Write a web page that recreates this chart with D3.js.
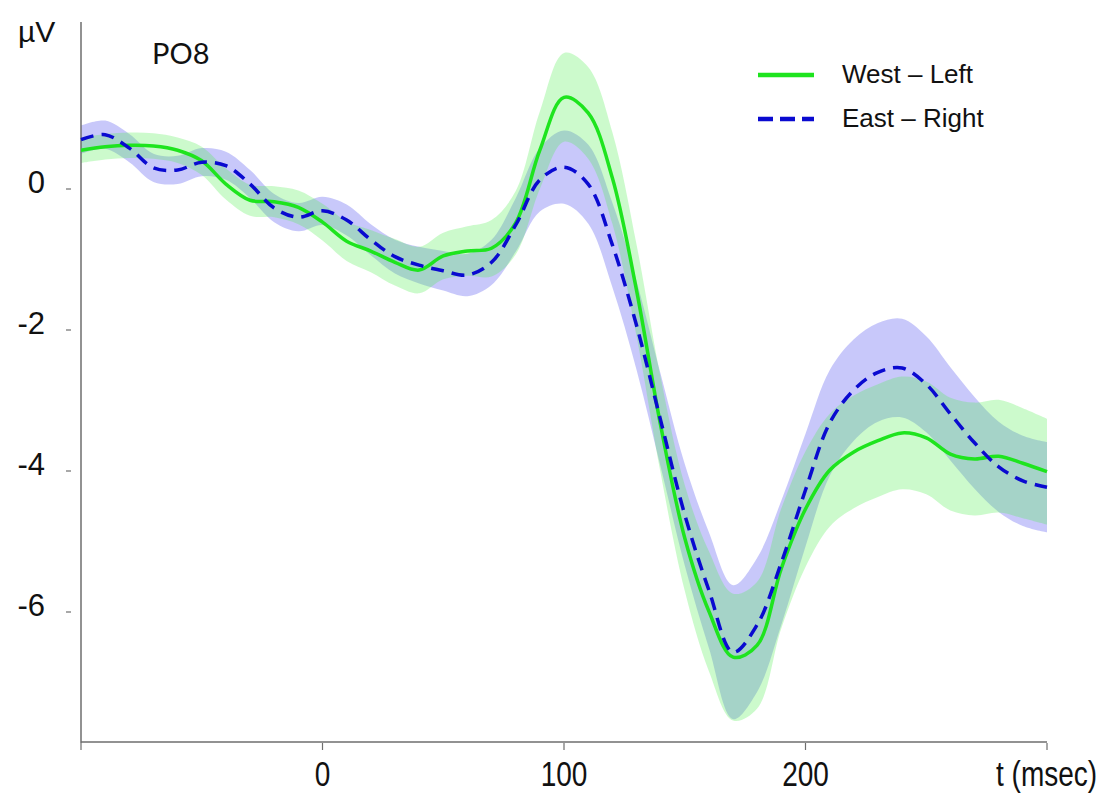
<!DOCTYPE html>
<html>
<head>
<meta charset="utf-8">
<script src="https://cdn.jsdelivr.net/npm/d3@7"></script>
<style>
  body { margin: 0; background: #fff; }
  text { font-family: "Liberation Sans", Arial, sans-serif; fill: #111; }
</style>
</head>
<body>
<svg id="chart" width="1102" height="794"></svg>
<script>
// time axis, ms (10 ms steps)
var times = d3.range(-100, 301, 10);

// West - Left (green): mean and half width of the shaded band, in µV
var westMean = [0.55, 0.60, 0.62, 0.61, 0.55, 0.40, 0.07, -0.16, -0.18, -0.26,
    -0.47, -0.74, -0.88, -1.04, -1.15, -0.95, -0.88, -0.84, -0.48, 0.55,
    1.30, 1.08, 0.16, -1.43, -3.35, -4.95, -5.99, -6.64, -6.47, -5.38,
    -4.54, -3.99, -3.73, -3.57, -3.46, -3.53, -3.76, -3.83, -3.79, -3.89, -4.01];
var westBand = [0.18, 0.18, 0.18, 0.18, 0.18, 0.20, 0.22, 0.22, 0.22, 0.24,
    0.26, 0.28, 0.30, 0.33, 0.33, 0.33, 0.35, 0.40, 0.45, 0.55,
    0.63, 0.65, 0.65, 0.65, 0.68, 0.75, 0.85, 0.90, 0.90, 0.85,
    0.82, 0.80, 0.80, 0.80, 0.80, 0.80, 0.80, 0.80, 0.80, 0.78, 0.75];

// East - Right (blue dashed)
var eastMean = [0.70, 0.77, 0.58, 0.30, 0.27, 0.38, 0.33, 0.07, -0.27, -0.40,
    -0.31, -0.44, -0.72, -0.96, -1.08, -1.16, -1.22, -1.04, -0.51, 0.13,
    0.31, 0.07, -0.79, -1.93, -3.28, -4.62, -5.69, -6.57, -6.18, -5.30,
    -4.27, -3.32, -2.85, -2.60, -2.54, -2.77, -3.19, -3.60, -3.94, -4.14, -4.23];
var eastBand = [0.20, 0.20, 0.20, 0.20, 0.20, 0.20, 0.20, 0.20, 0.20, 0.20,
    0.20, 0.22, 0.22, 0.24, 0.26, 0.28, 0.30, 0.32, 0.38, 0.45,
    0.52, 0.56, 0.60, 0.63, 0.66, 0.72, 0.82, 0.95, 0.95, 0.88,
    0.80, 0.75, 0.72, 0.70, 0.70, 0.68, 0.66, 0.65, 0.64, 0.64, 0.64];

var xTicks = [-100, 0, 100, 200, 300];
var xTickLabels = ["", "0", "100", "200", ""];
var yTicks = [0, -2, -4, -6];

var svg = d3.select("#chart");

var x = d3.scaleLinear().domain([-100, 300]).range([81, 1047]);
var y = d3.scaleLinear().domain([-6, 0]).range([612, 189]);

function rows(mean, band) {
    return times.map(function(t, i) { return {t: t, m: mean[i], b: band[i]}; });
}
var west = rows(westMean, westBand),
    east = rows(eastMean, eastBand);

var area = d3.area()
    .x(function(d) { return x(d.t); })
    .y0(function(d) { return y(d.m - d.b); })
    .y1(function(d) { return y(d.m + d.b); })
    .curve(d3.curveCatmullRom);

var line = d3.line()
    .x(function(d) { return x(d.t); })
    .y(function(d) { return y(d.m); })
    .curve(d3.curveCatmullRom);

// bands
svg.append("path").datum(east).attr("d", area)
    .attr("fill", "rgb(72,72,238)").attr("fill-opacity", 0.3);
svg.append("path").datum(west).attr("d", area)
    .attr("fill", "rgb(85,238,85)").attr("fill-opacity", 0.3);

// axes
var axisColor = "#6e6e6e";
svg.append("line")
    .attr("x1", 81).attr("x2", 81).attr("y1", 22).attr("y2", 743)
    .attr("stroke", axisColor).attr("stroke-width", 1.5);
svg.append("line")
    .attr("x1", 81).attr("x2", x(300)).attr("y1", 742).attr("y2", 742)
    .attr("stroke", axisColor).attr("stroke-width", 1.5);

svg.selectAll(".xtick").data(xTicks).enter().append("line")
    .attr("class", "xtick")
    .attr("x1", function(d) { return x(d); }).attr("x2", function(d) { return x(d); })
    .attr("y1", 743).attr("y2", 750)
    .attr("stroke", axisColor).attr("stroke-width", 1.2);

svg.selectAll(".xlab").data(xTicks).enter().append("text")
    .attr("class", "xlab")
    .attr("transform", function(d) { return "translate(" + x(d) + ",786) scale(0.8,1)"; })
    .attr("text-anchor", "middle")
    .style("font-size", "35px")
    .text(function(d, i) { return xTickLabels[i]; });

svg.append("text")
    .attr("transform", "translate(996,786) scale(0.8,1)")
    .style("font-size", "35px")
    .text("t (msec)");

svg.selectAll(".ytick").data(yTicks).enter().append("line")
    .attr("class", "ytick")
    .attr("x1", 66).attr("x2", 71)
    .attr("y1", function(d) { return y(d); }).attr("y2", function(d) { return y(d); })
    .attr("stroke", axisColor).attr("stroke-width", 1.2);

svg.selectAll(".ylab").data(yTicks).enter().append("text")
    .attr("class", "ylab")
    .attr("x", 45)
    .attr("y", function(d) { return y(d) + 4; })
    .attr("text-anchor", "end")
    .style("font-size", "31px")
    .text(function(d) { return d; });

svg.append("text").attr("x", 18).attr("y", 42)
    .style("font-size", "30px").text("µV");

svg.append("text").attr("x", 152).attr("y", 64)
    .style("font-family", "Lato, sans-serif").style("font-size", "29px")
    .text("PO8");

// mean lines
svg.append("path").datum(west).attr("d", line)
    .attr("fill", "none").attr("stroke", "#1ee41e").attr("stroke-width", 3.5);
svg.append("path").datum(east).attr("d", line)
    .attr("fill", "none").attr("stroke", "#0a0ad0").attr("stroke-width", 3.5)
    .attr("stroke-dasharray", "13,8");

// legend
var legend = [
    {name: "West \u2013 Left", color: "#1ee41e", dash: null, y: 75},
    {name: "East \u2013 Right", color: "#0a0ad0", dash: "15,7", y: 119}
];
var lg = svg.selectAll(".leg").data(legend).enter().append("g").attr("class", "leg");
lg.append("line")
    .attr("x1", 758).attr("x2", 814)
    .attr("y1", function(d) { return d.y; }).attr("y2", function(d) { return d.y; })
    .attr("stroke", function(d) { return d.color; })
    .attr("stroke-width", 4.5)
    .attr("stroke-dasharray", function(d) { return d.dash; });
lg.append("text")
    .attr("x", 842)
    .attr("y", function(d) { return d.y + 8; })
    .style("font-size", "26px")
    .text(function(d) { return d.name; });
</script>
</body>
</html>
